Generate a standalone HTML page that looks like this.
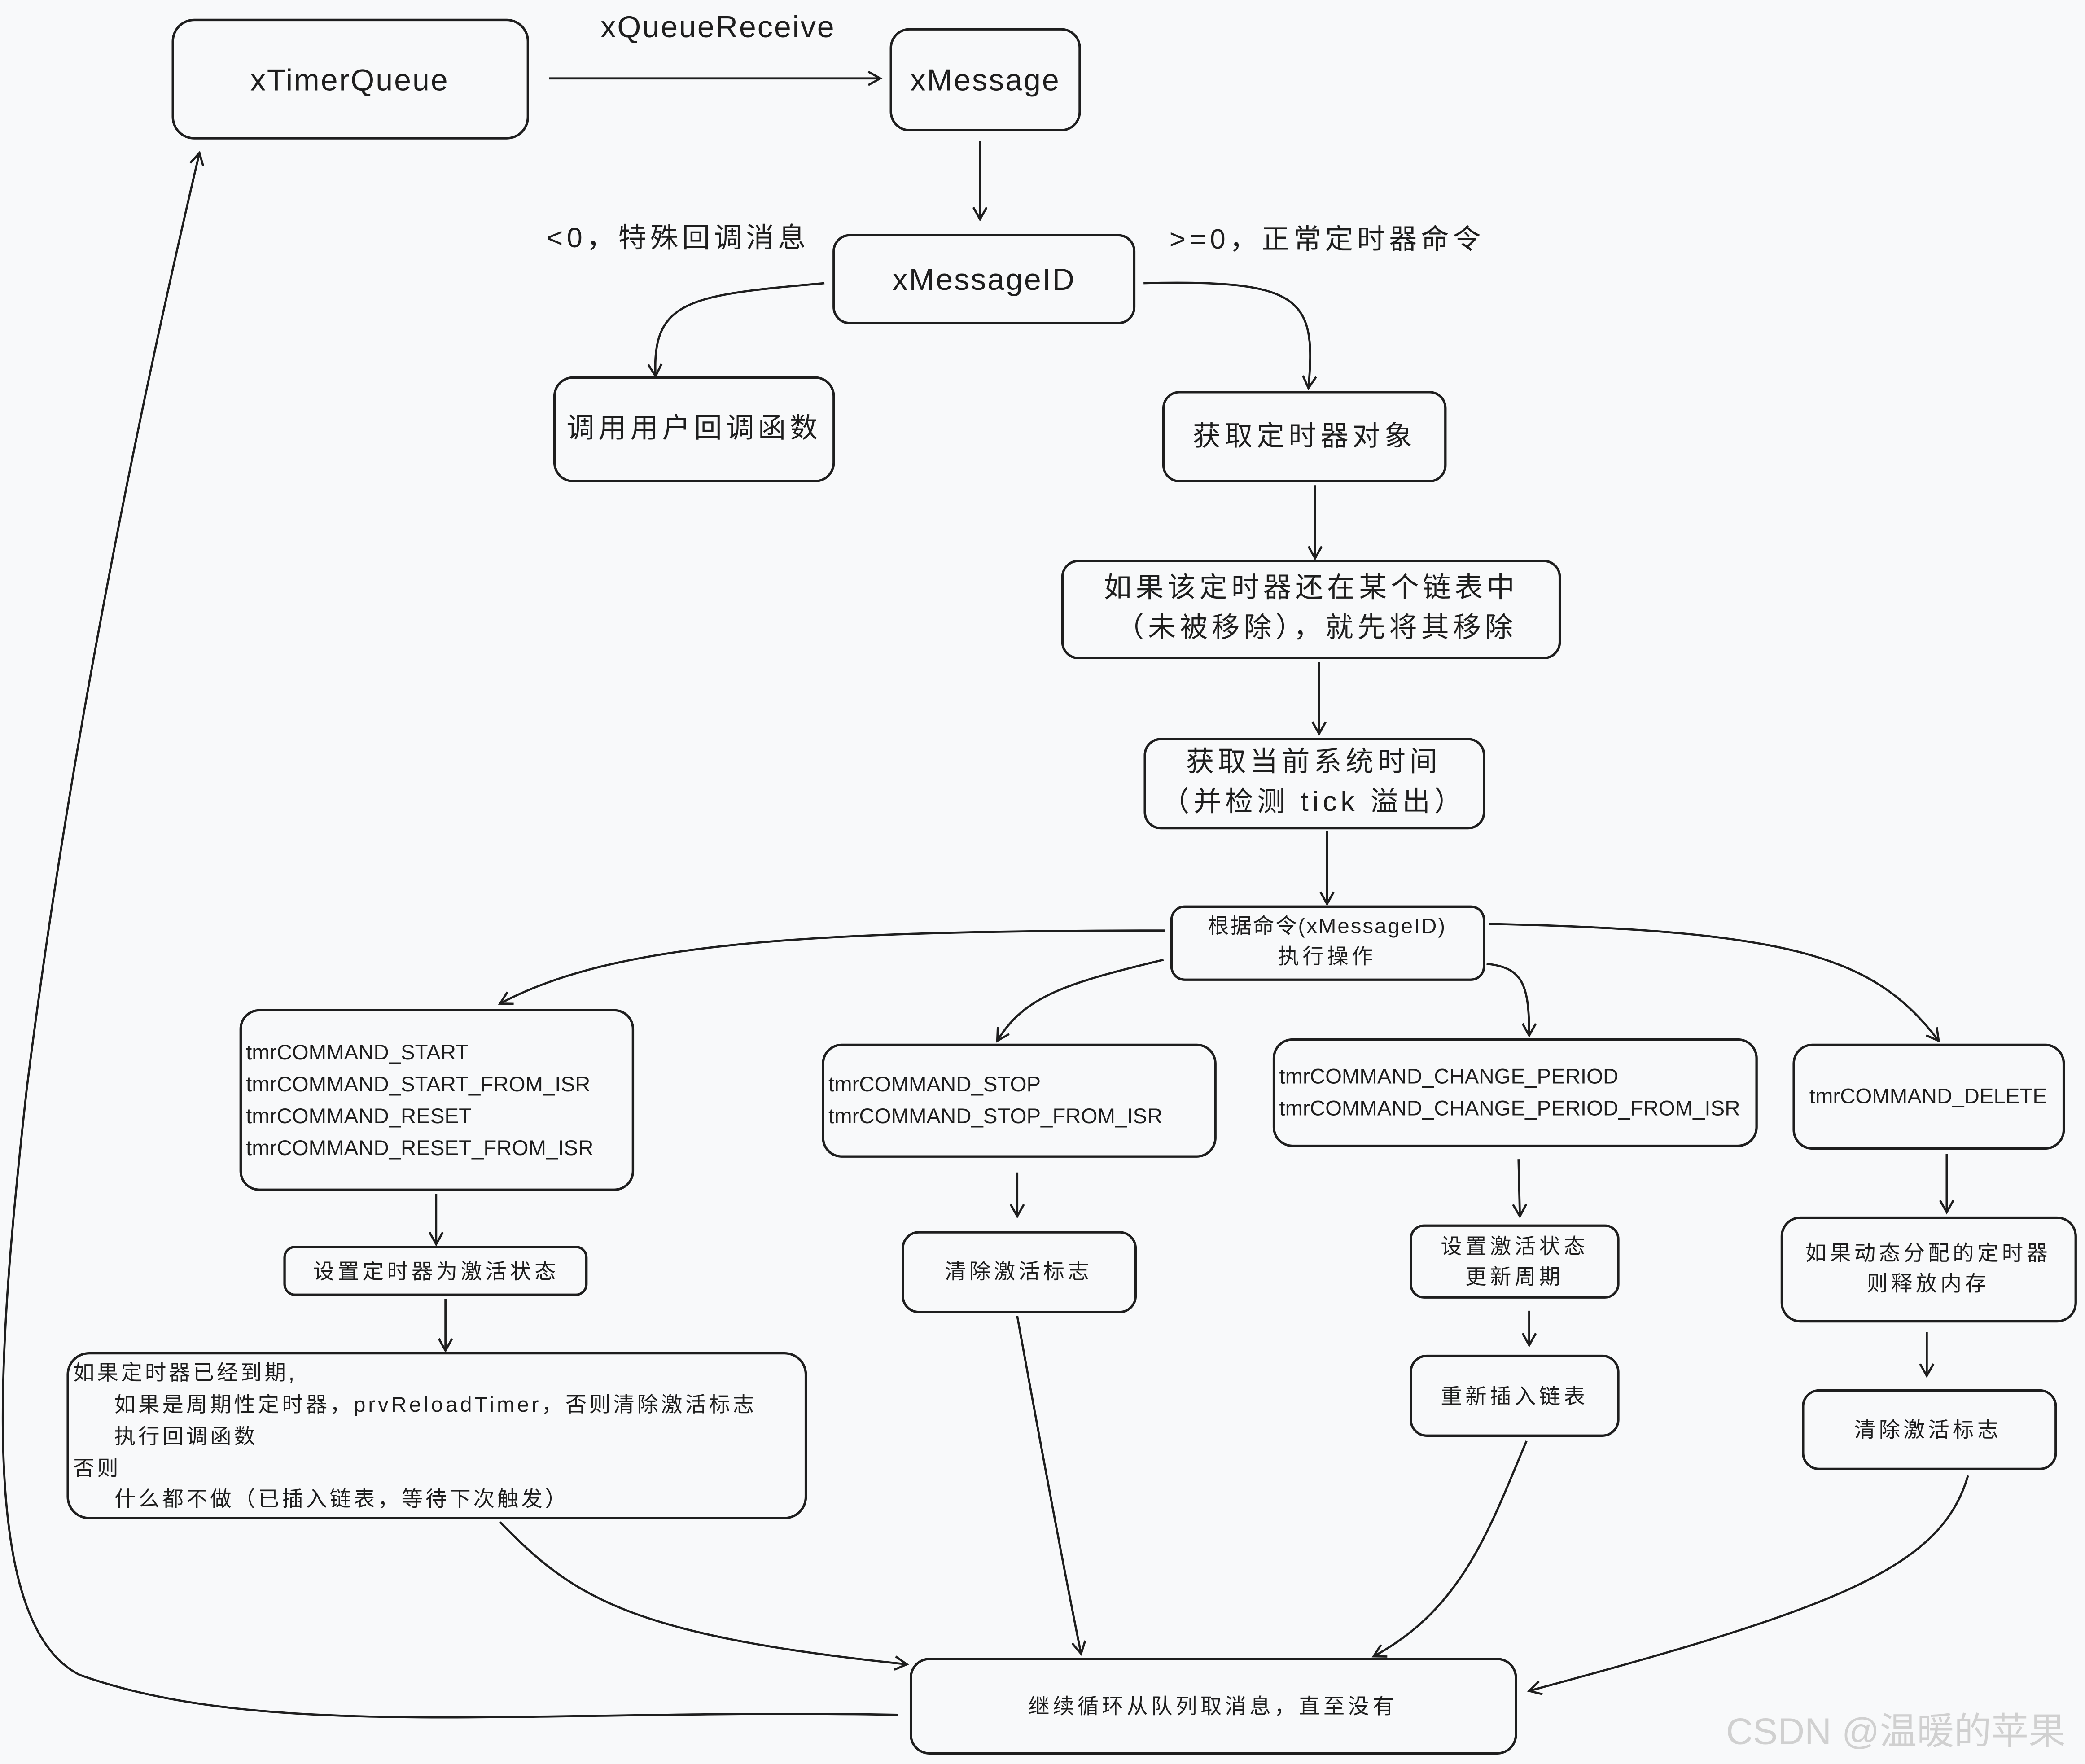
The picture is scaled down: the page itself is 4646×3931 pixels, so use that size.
<!DOCTYPE html>
<html><head><meta charset="utf-8"><style>
html,body{margin:0;padding:0;background:#f8f9fa;}
svg{display:block}
text{font-family:"Liberation Sans","Noto Sans CJK SC",sans-serif;fill:#1e1e1e}
</style></head><body>
<svg width="4646" height="3931" viewBox="0 0 1568 1327" preserveAspectRatio="none" xmlns="http://www.w3.org/2000/svg">
<defs><marker id="a" markerWidth="12" markerHeight="12" refX="10" refY="6" orient="auto" markerUnits="userSpaceOnUse"><path d="M1,1 L10,6 L1,11" fill="none" stroke="#1e1e1e" stroke-width="1.6"/></marker></defs>
<rect width="1568" height="1327" fill="#f8f9fa"/>
<g fill="none" stroke="#1e1e1e" stroke-width="1.8">
<rect x="130" y="15" width="267" height="89" rx="16"/>
<rect x="670" y="22" width="142" height="76" rx="14"/>
<rect x="627" y="177" width="226" height="66" rx="12"/>
<rect x="417" y="284" width="210" height="78" rx="14"/>
<rect x="875" y="295" width="212" height="67" rx="12"/>
<rect x="799" y="422" width="374" height="73" rx="12"/>
<rect x="861" y="556" width="255" height="67" rx="12"/>
<rect x="881" y="682" width="235" height="55" rx="10"/>
<rect x="181" y="760" width="295" height="135" rx="14"/>
<rect x="619" y="786" width="295" height="84" rx="14"/>
<rect x="958" y="782" width="363" height="80" rx="14"/>
<rect x="1349" y="786" width="203" height="78" rx="14"/>
<rect x="214" y="938" width="227" height="36" rx="8"/>
<rect x="679" y="927" width="175" height="60" rx="12"/>
<rect x="1061" y="922" width="156" height="54" rx="10"/>
<rect x="1061" y="1020" width="156" height="60" rx="12"/>
<rect x="1340" y="916" width="221" height="78" rx="14"/>
<rect x="1356" y="1046" width="190" height="59" rx="12"/>
<rect x="51" y="1018" width="555" height="124" rx="16"/>
<rect x="685" y="1248" width="455" height="71" rx="14"/>
</g>
<g fill="none" stroke="#1e1e1e" stroke-width="1.6" marker-end="url(#a)">
<path d="M413,59 L662,59"/>
<path d="M737,106 L737,165"/>
<path d="M620,213 C520,222 490,225 493,283"/>
<path d="M860,213 C980,210 990,225 984,292"/>
<path d="M989,365 L989,420"/>
<path d="M992,498 L992,552"/>
<path d="M998,625 L998,680"/>
<path d="M876,700 C600,700 460,710 376,755"/>
<path d="M875,722 C800,740 770,750 750,783"/>
<path d="M1118,725 C1145,728 1150,740 1150,779"/>
<path d="M1120,695 C1350,700 1410,720 1458,783"/>
<path d="M328,898 L328,936"/>
<path d="M765,882 L765,915"/>
<path d="M1142,872 L1143,915"/>
<path d="M1464,868 L1464,912"/>
<path d="M335,977 L335,1016"/>
<path d="M1150,986 L1150,1012"/>
<path d="M1449,1002 L1449,1035"/>
<path d="M376,1145 C430,1200 470,1230 682,1252"/>
<path d="M765,990 C785,1100 800,1180 813,1244"/>
<path d="M1148,1084 C1120,1150 1100,1210 1033,1246"/>
<path d="M1480,1110 C1460,1180 1380,1210 1150,1272"/>
<path d="M675,1290 C400,1285 200,1310 60,1260 C-20,1220 0,1000 20,820 C60,500 130,200 150,115"/>
</g>
<g font-size="23" text-anchor="middle" letter-spacing="1">
<text x="263" y="68">xTimerQueue</text>
<text x="540" y="28">xQueueReceive</text>
<text x="741" y="68">xMessage</text>
<text x="740" y="218">xMessageID</text>
</g>
<g font-size="21" text-anchor="middle" letter-spacing="3">
<text x="510" y="186">&lt;0，特殊回调消息</text>
<text x="998" y="187">&gt;=0，正常定时器命令</text>
<text x="522" y="329">调用用户回调函数</text>
<text x="981" y="335">获取定时器对象</text>
<text x="986" y="449">如果该定时器还在某个链表中</text>
<text x="990" y="479">（未被移除），就先将其移除</text>
<text x="988" y="580">获取当前系统时间</text>
<text x="988" y="610">（并检测 tick 溢出）</text>
</g>
<g font-size="16" text-anchor="middle" letter-spacing="2.5">
<text x="998" y="702" letter-spacing="1">根据命令(xMessageID)</text>
<text x="998" y="725">执行操作</text>
<text x="328" y="962">设置定时器为激活状态</text>
<text x="766" y="962">清除激活标志</text>
<text x="1139" y="943">设置激活状态</text>
<text x="1139" y="966">更新周期</text>
<text x="1139" y="1056">重新插入链表</text>
<text x="1450" y="948">如果动态分配的定时器</text>
<text x="1450" y="971">则释放内存</text>
<text x="1450" y="1081">清除激活标志</text>
<text x="912" y="1289">继续循环从队列取消息，直至没有</text>
</g>
<text x="1450" y="830" font-size="16" text-anchor="middle">tmrCOMMAND_DELETE</text>
<g font-size="16">
<text x="185" y="797">tmrCOMMAND_START</text>
<text x="185" y="821">tmrCOMMAND_START_FROM_ISR</text>
<text x="185" y="845">tmrCOMMAND_RESET</text>
<text x="185" y="869">tmrCOMMAND_RESET_FROM_ISR</text>
<text x="623" y="821">tmrCOMMAND_STOP</text>
<text x="623" y="845">tmrCOMMAND_STOP_FROM_ISR</text>
<text x="962" y="815">tmrCOMMAND_CHANGE_PERIOD</text>
<text x="962" y="839">tmrCOMMAND_CHANGE_PERIOD_FROM_ISR</text>
</g>
<g font-size="16" letter-spacing="2">
<text x="55" y="1038">如果定时器已经到期,</text>
<text x="86" y="1062">如果是周期性定时器，prvReloadTimer，否则清除激活标志</text>
<text x="86" y="1086">执行回调函数</text>
<text x="55" y="1110">否则</text>
<text x="86" y="1133">什么都不做（已插入链表，等待下次触发）</text>
</g>
<text x="1298" y="1312" font-size="28" style="fill:#d0d0d0">CSDN @温暖的苹果</text>
</svg>
</body></html>
